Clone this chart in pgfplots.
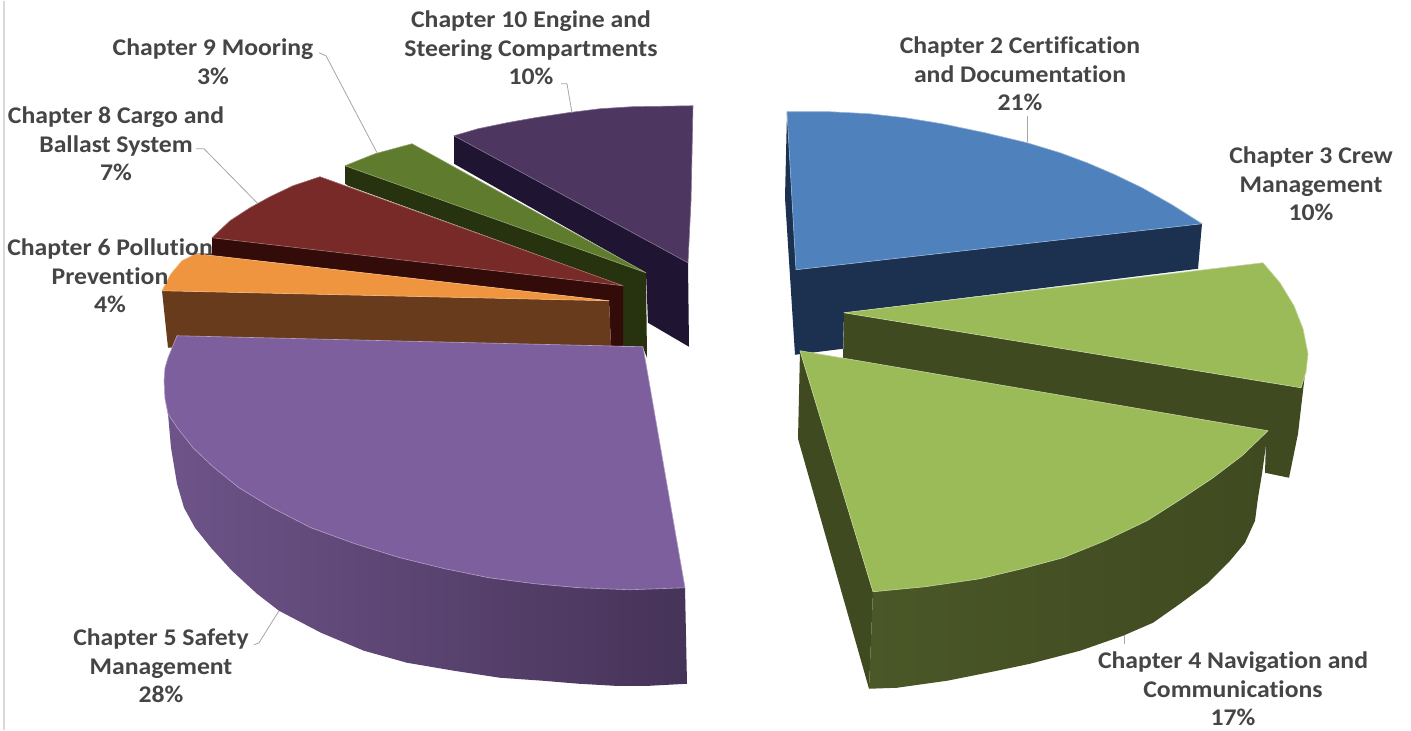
\documentclass[border=0pt]{standalone}
\usepackage{fontspec}
\setmainfont[FakeStretch=1.075,Ligatures=NoCommon]{Carlito}
\usepackage{pgfplots}
\pgfplotsset{compat=1.18}

\definecolor{blueT}{HTML}{4F81BD}
\definecolor{blueS}{HTML}{1C3150}
\definecolor{greenT}{HTML}{9BBB59}
\definecolor{greenS}{HTML}{3F4A20}
\definecolor{greenL}{HTML}{4A5727}
\definecolor{purpT}{HTML}{7E5F9E}
\definecolor{purpL}{HTML}{6E5489}
\definecolor{purpR}{HTML}{463358}
\definecolor{orangeT}{HTML}{F0953F}
\definecolor{orangeS}{HTML}{673B1B}
\definecolor{redT}{HTML}{772A27}
\definecolor{redS}{HTML}{330C0A}
\definecolor{oliveT}{HTML}{5F7B2E}
\definecolor{oliveS}{HTML}{26330E}
\definecolor{plumT}{HTML}{4D3761}
\definecolor{plumS}{HTML}{1F1532}
\definecolor{labelc}{HTML}{454545}
\definecolor{leader}{HTML}{A6A6A6}

\tikzset{lab/.style={font=\fontsize{24}{28.5}\selectfont\bfseries, text=labelc, align=center, inner sep=0pt}}

\begin{document}
\begin{tikzpicture}
\begin{axis}[
    scale only axis,
    width=1411bp, height=729bp,
    xmin=0, xmax=1411, ymin=0, ymax=729,
    y dir=reverse,
    hide axis,
    clip=false,
    every axis plot/.append style={no markers, line join=round},
]
% page and left border
\addplot[fill=white, draw=none] coordinates {(0,0) (1411,0) (1411,729) (0,729)} --cycle;
\addplot[draw=black!15, line width=1.5bp] coordinates {(4,0) (4,729)};

% Chapter 10
\addplot[fill=plumS, draw=none] coordinates {(454,135) (688,262) (689,346) (648,322) (646,272) (454,163)} --cycle;
\addplot[fill=plumT, draw=plumT!70!white, line width=.6bp] coordinates {(693,105) (632,106) (600,108) (568,112) (535,117) (507,122) (478,128) (454,135) (688,262) (691,200)} --cycle;

% Chapter 9
\addplot[fill=oliveS, draw=none] coordinates {(345,165) (646,272) (647,357) (643,347) (623,345) (623,285) (348,185) (345,183)} --cycle;
\addplot[fill=oliveT, draw=oliveT!70!white, line width=.6bp] coordinates {(412,143) (375,153) (345,165) (646,272)} --cycle;

% Chapter 8
\addplot[fill=redS, draw=none] coordinates {(212,237) (623,285) (623,345) (611,345) (609,300) (196,253) (212,253)} --cycle;
\addplot[fill=redT, draw=redT!70!white, line width=.6bp] coordinates {(320,176) (293,185) (270,196) (250,207) (230,220) (212,237) (623,285)} --cycle;

% Chapter 6
\addplot[fill=orangeS, draw=none] coordinates {(162,290) (609,300) (611,345) (168,347)} --cycle;
\addplot[fill=orangeT, draw=orangeT!70!white, line width=.6bp] coordinates {(196,253) (182,260) (171,273) (162,290) (609,300)} --cycle;

% Chapter 5
\addplot[left color=purpL, right color=purpR, draw=none] coordinates {(164,380) (168,413) (193,447) (239,487) (311,527) (400,557) (489,577) (579,587) (685,587) (687,683) (650,685) (614,685) (579,683) (543,680) (500,677) (454,670) (407,662) (364,650) (321,632) (279,610) (257,593) (232,570) (211,547) (195,527) (184,507) (177,483) (171,447) (168,413)} --cycle;
\addplot[fill=purpT, draw=purpT!60!white, line width=.6bp] coordinates {(177,335) (643,346) (685,587) (630,589) (579,587) (535,583) (489,577) (445,568) (400,557) (355,543) (311,527) (272,507) (239,487) (213,466) (193,447) (178,428) (168,413) (165,398) (164,380) (165,367) (168,357)} --cycle;

% Chapter 2
\addplot[fill=blueS, draw=none] coordinates {(787,111) (785,197) (795,354) (843,348) (844,312) (1198,268) (1202,223) (796,269)} --cycle;
\addplot[fill=blueT, draw=blueT!60!white, line width=.6bp] coordinates {(787,111) (830,111) (869,113) (905,117) (942,123) (985,132) (1027,142) (1060,152) (1087,162) (1115,174) (1142,187) (1172,204) (1202,223) (796,269)} --cycle;

% Chapter 3
\addplot[fill=greenS, draw=none] coordinates {(844,312) (1301,387) (1305,373) (1298,433) (1289,477) (1265,472) (1266,440) (843,360)} --cycle;
\addplot[fill=greenT, draw=greenT!60!white, line width=.6bp] coordinates {(844,312) (1263,262) (1280,282) (1294,305) (1303,328) (1308,353) (1306,371) (1301,387)} --cycle;

% Chapter 4
\addplot[fill=greenS, draw=none] coordinates {(800,350) (798,438) (869,688) (873,591)} --cycle;
\addplot[left color=greenL, middle color=greenS, right color=greenS, draw=none] coordinates {(873,591) (869,688) (897,687) (947,680) (997,670) (1030,663) (1080,650) (1123,635) (1153,622) (1180,603) (1207,583) (1230,560) (1245,542) (1255,520) (1258,497) (1262,473) (1268,430) (1213,477) (1147,520) (1063,557) (980,578)} --cycle;
\addplot[fill=greenT, draw=greenT!60!white, line width=.6bp] coordinates {(800,350) (1268,430) (1242,455) (1213,477) (1180,499) (1147,520) (1105,540) (1063,557) (1022,568) (980,578) (925,586) (873,591)} --cycle;

% leader lines
\addplot[draw=leader, line width=.8bp] coordinates {(1027,115) (1027,141)};
\addplot[draw=leader, line width=.8bp] coordinates {(1124,634) (1124,643)};
\addplot[draw=leader, line width=.8bp] coordinates {(254,644) (259,642) (279,610)};
\addplot[draw=leader, line width=.8bp] coordinates {(196,148) (204,148) (257,202)};
\addplot[draw=leader, line width=.8bp] coordinates {(319,52) (326,55) (377,152)};
\addplot[draw=leader, line width=.8bp] coordinates {(561,83) (567,83) (572,112)};

% labels
\node[lab] at (axis cs:1020,73) {Chapter 2 Certification\\and Documentation\\21\%};
\node[lab] at (axis cs:1311,183) {Chapter 3 Crew\\Management\\10\%};
\node[lab] at (axis cs:1233,688) {Chapter 4 Navigation and\\Communications\\17\%};
\node[lab] at (axis cs:161,665) {Chapter 5 Safety\\Management\\28\%};
\node[lab] at (axis cs:110,275) {Chapter 6 Pollution\\Prevention\\4\%};
\node[lab] at (axis cs:116,143) {Chapter 8 Cargo and\\Ballast System\\7\%};
\node[lab] at (axis cs:213,61) {Chapter 9 Mooring\\3\%};
\node[lab] at (axis cs:531,47) {Chapter 10 Engine and\\Steering Compartments\\10\%};
\end{axis}
\end{tikzpicture}
\end{document}
